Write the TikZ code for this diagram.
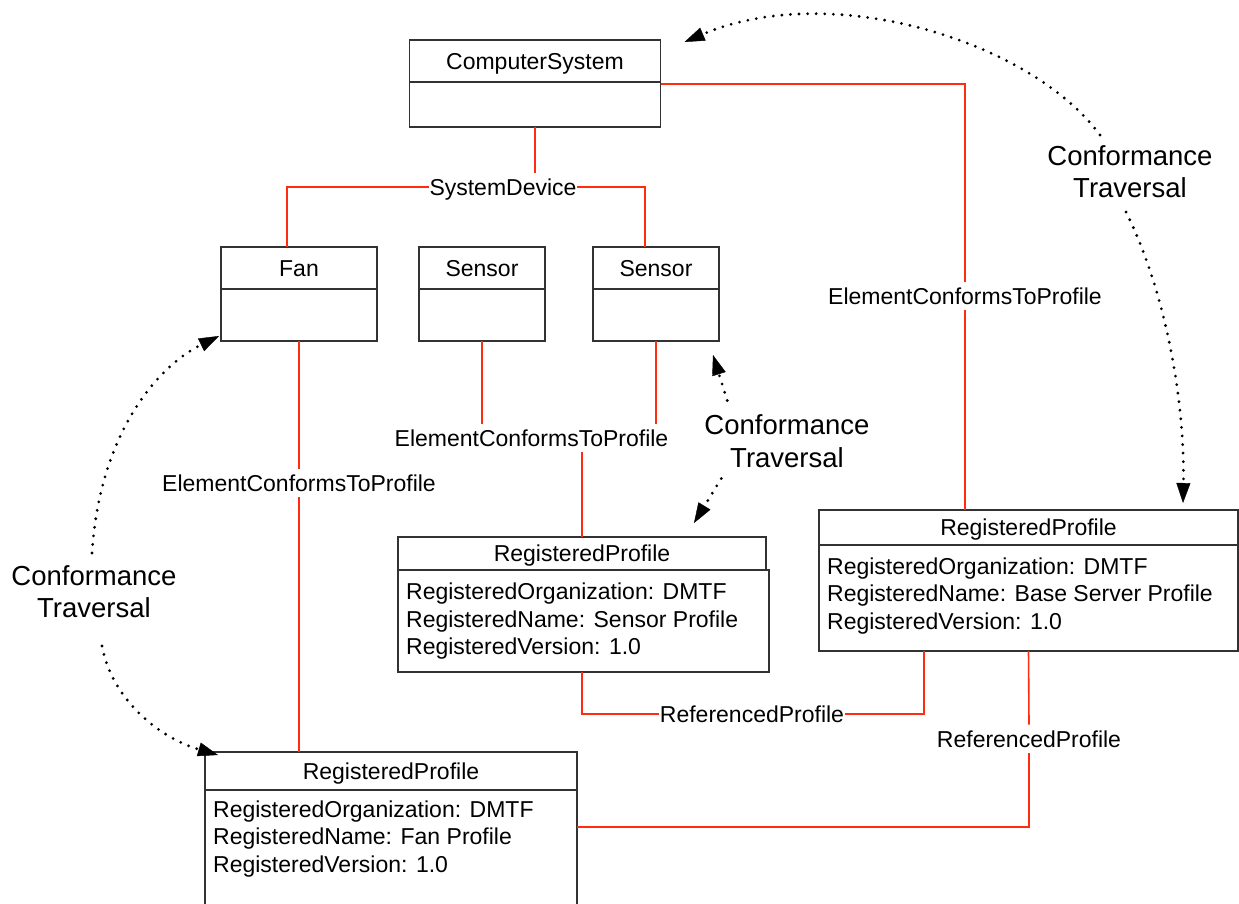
\documentclass[tikz,border=0pt]{standalone}
\usepackage{fontspec}
\setmainfont{Liberation Sans}
\usetikzlibrary{arrows.meta,calc}
\definecolor{assoc}{RGB}{255,45,15}
\definecolor{boxline}{RGB}{50,50,50}

\begin{document}
\begin{tikzpicture}[x=1pt,y=-1pt,
  every node/.style={font=\fontsize{23}{27.5}\selectfont},
  classhead/.style={draw=boxline,line width=1.2pt,rectangle,inner sep=0pt,outer sep=0pt,
    text height=16.5pt,text depth=0pt},
  classbody/.style={draw=boxline,line width=1.2pt,rectangle,inner sep=0pt,outer sep=0pt},
  attrs/.style={align=left,inner sep=0pt,anchor=north west},
  assocline/.style={draw=assoc,line width=1.6pt},
  assoclabel/.style={inner xsep=0.5pt,inner ysep=6pt,text height=16.5pt,text depth=0pt},
  travlabel/.style={align=center,inner sep=0pt,font=\fontsize{27.5}{32.5}\selectfont},
  traversal/.style={line width=3.1pt,dash pattern=on 0pt off 8.6pt,line cap=round,
    -{Triangle[length=20pt,width=14pt,line width=0.4pt]}}
]
\useasboundingbox (0,0) rectangle (1239,903);
\clip (0,0) rectangle (1239,903);

% classes
\node[classhead,minimum width=251pt,minimum height=42pt] (cs) at (535,61) {ComputerSystem};
\node[classbody,minimum width=251pt,minimum height=45pt,anchor=north] (csb) at (cs.south) {};

\node[classhead,minimum width=156pt,minimum height=42pt] (fan) at (299,268) {Fan};
\node[classbody,minimum width=156pt,minimum height=52pt,anchor=north] (fanb) at (fan.south) {};

\node[classhead,minimum width=126pt,minimum height=42pt] (sa) at (482,268) {Sensor};
\node[classbody,minimum width=126pt,minimum height=52pt,anchor=north] (sab) at (sa.south) {};

\node[classhead,minimum width=126pt,minimum height=42pt] (sb) at (656,268) {Sensor};
\node[classbody,minimum width=126pt,minimum height=52pt,anchor=north] (sbb) at (sb.south) {};

\node[classhead,minimum width=368pt,minimum height=33pt] (rps) at (582,553.5) {RegisteredProfile};
\node[classbody,minimum width=371pt,minimum height=102pt,anchor=north west] (rpsb) at (rps.south west) {};
\node[attrs] (rpst) at ($(rpsb.north west)+(8,13)$)
  {RegisteredOrganization: DMTF\\RegisteredName: Sensor Profile\\RegisteredVersion: 1.0};

\node[classhead,minimum width=419pt,minimum height=35pt] (rpb) at (1028.5,527.5) {RegisteredProfile};
\node[classbody,minimum width=419pt,minimum height=106pt,anchor=north] (rpbb) at (rpb.south) {};
\node[attrs] (rpbt) at ($(rpbb.north west)+(8,12.5)$)
  {RegisteredOrganization: DMTF\\RegisteredName: Base Server Profile\\RegisteredVersion: 1.0};

\node[classhead,minimum width=372pt,minimum height=38pt] (rpf) at (391,771) {RegisteredProfile};
\node[classbody,minimum width=372pt,minimum height=140pt,anchor=north] (rpfb) at (rpf.south) {};
\node[attrs] (rpft) at ($(rpfb.north west)+(8,10.5)$)
  {RegisteredOrganization: DMTF\\RegisteredName: Fan Profile\\RegisteredVersion: 1.0};

% association labels
\node[assoclabel] (sd) at (503,187) {SystemDevice};
\node[assoclabel] (ectpa) at (299,483) {ElementConformsToProfile};
\node[assoclabel] (ectpb) at (531.5,438) {ElementConformsToProfile};
\node[assoclabel] (ectpc) at (965,296) {ElementConformsToProfile};
\node[assoclabel] (refa) at (752,714) {ReferencedProfile};
\node[assoclabel] (refb) at (1029,739) {ReferencedProfile};
\coordinate (fanref) at ($(rpfb.north east)+(0,37)$);

% traversal labels
\node[travlabel] (cta) at (1130,171.5) {Conformance\\Traversal};
\node[travlabel] (ctb) at (787,441) {Conformance\\Traversal};
\node[travlabel] (ctc) at (94,591.5) {Conformance\\Traversal};

% SystemDevice
\draw[assocline] (csb.south) -- (csb.south |- sd.north);
\draw[assocline] ($(fan.north)+(-12,0)$) |- (sd.west);
\draw[assocline] ($(sa.north)+(-10,0)$) -- ($(sa.north)+(-10,0)$ |- sd.south);
\draw[assocline] ($(sb.north)+(-11,0)$) |- (sd.east);

% ElementConformsToProfile
\draw[assocline] (fanb.south) -- (ectpa.north);
\draw[assocline] (ectpa.south) -- (ectpa.south |- rpf.north);
\draw[assocline] (sab.south) -- (sab.south |- ectpb.north);
\draw[assocline] (sbb.south) -- (sbb.south |- ectpb.north);
\draw[assocline] (rps.north |- ectpb.south) -- (rps.north);
\draw[assocline] ($(csb.north east)+(0,2)$) -| (ectpc.north);
\draw[assocline] (ectpc.south) -- (ectpc.south |- rpb.north);

% ReferencedProfile
\draw[assocline] (rps.south |- rpsb.south) |- (refa.west);
\draw[assocline] (refa.east) -| ($(rpbb.south west)!0.25!(rpbb.south east)$);
\draw[assocline] (rpbb.south) -- (refb.north);
\draw[assocline] (refb.south) |- (fanref);

% conformance traversals
\draw[traversal] ($(cta.north)+(-30,-10)$) .. controls (1030,40) and (830,-20) .. ($(cs.north east)+(24,2)$);
\draw[traversal] ($(cta.south)+(-4,14)$) .. controls (1165,290) and (1185,400) .. ($(rpb.north east)+(-55,-7)$);
\draw[traversal] ($(ctb.north west)+(23,-14)$) -- ($(sbb.south east)+(-6,14)$);
\draw[traversal] ($(ctb.south west)+(17,11)$) -- ($(rps.north east)+(-72,-14)$);
\draw[traversal] ($(ctc.north)+(-2,-12)$) .. controls (100,430) and (160,365) .. ($(fanb.south west)+(-2,-5)$);
\draw[traversal] ($(ctc.south)+(8,28)$) .. controls (112,700) and (160,738) .. ($(rpf.north west)+(13,3)$);
\end{tikzpicture}
\end{document}
